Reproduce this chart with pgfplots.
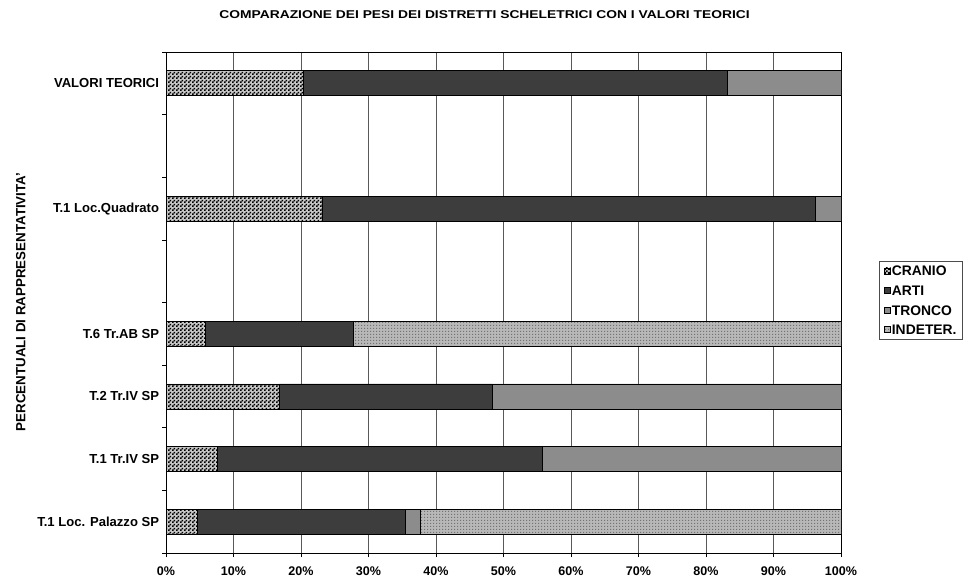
\documentclass[border=0pt]{standalone}
\usepackage{pgfplots}
\pgfplotsset{compat=1.18}
\usepackage{pgfplotstable}
\usepackage{fontspec}
\setmainfont{Liberation Sans}
\usetikzlibrary{patterns}

% fine checkerboard for CRANIO
\pgfdeclarepatternformonly{finechecker}{\pgfqpoint{0pt}{0pt}}{\pgfqpoint{3pt}{3pt}}{\pgfqpoint{3pt}{3pt}}{%
  \pgfpathrectangle{\pgfqpoint{0pt}{0pt}}{\pgfqpoint{1.5pt}{1.5pt}}%
  \pgfpathrectangle{\pgfqpoint{1.5pt}{1.5pt}}{\pgfqpoint{1.5pt}{1.5pt}}%
  \pgfusepath{fill}}
% small dot grid for INDETER.
\pgfdeclarepatternformonly{finedots}{\pgfqpoint{0pt}{0pt}}{\pgfqpoint{2.2pt}{2.2pt}}{\pgfqpoint{2.2pt}{2.2pt}}{%
  \pgfpathrectangle{\pgfqpoint{0pt}{0pt}}{\pgfqpoint{0.8pt}{0.8pt}}%
  \pgfusepath{fill}}

% percentages per site: position on the category axis, then the four districts
\pgfplotstableread{
pos cranio arti tronco indeter
0   4.7   30.8  2.2   62.3
1   7.6   48.1  44.3  0
2   16.8  31.5  51.7  0
3   5.9   21.8  0     72.3
5   23.1  73.1  3.8   0
7   20.4  62.7  16.9  0
}\datatab

\begin{document}
\begin{tikzpicture}
\useasboundingbox (0,0) rectangle (726.75pt,436.5pt);
\begin{axis}[
  scale only axis,
  width=506.25pt, height=375.75pt,
  at={(124.5pt,21.75pt)}, anchor=south west,
  xbar stacked,
  bar width=18.75pt,
  xmin=0, xmax=100,
  ymin=-0.5, ymax=7.5,
  tick pos=left,
  xtick={0,10,...,100},
  xticklabels={0\%,10\%,20\%,30\%,40\%,50\%,60\%,70\%,80\%,90\%,100\%},
  xticklabel style={font=\fontsize{9.4}{11}\selectfont\bfseries, yshift=-4pt},
  ytick={0,1,2,3,5,7},
  yticklabels={T.1 Loc. Palazzo SP,T.1 Tr.IV SP,T.2 Tr.IV SP,T.6 Tr.AB SP,T.1 Loc.Quadrato,VALORI TEORICI},
  yticklabel style={font=\fontsize{9.8}{11}\selectfont\bfseries, inner sep=0pt, xshift=-2pt},
  minor ytick={-0.5,0.5,...,7.5},
  ytick style={draw=none},
  minor y tick style={draw=black, line width=0.5pt},
  minor tick length=3pt,
  tick align=outside,
  x tick style={draw=black, line width=0.5pt},
  major tick length=3pt,
  xmajorgrids,
  major grid style={black!65, line width=0.5pt},
  axis line style={black, line width=0.6pt},
  legend cell align=left,
  legend style={at={(1.0563,0.5828)}, anchor=north west,
    draw=black!70, line width=0.5pt,
    font=\fontsize{10.4}{11}\selectfont\bfseries,
    inner xsep=3.6pt, inner ysep=2.6pt, row sep=5.6pt,
    nodes={inner sep=0.8pt, text height=7.5pt, text depth=0pt}},
  legend image code/.code={\draw[#1,draw=black,line width=0.4pt] (0pt,-2.3pt) rectangle (4.6pt,2.3pt);},
]
\addplot[draw=black, line width=0.5pt, fill=black!22, postaction={pattern=finechecker, pattern color=black}]
  table[x=cranio, y=pos]{\datatab};
\addplot[draw=black, line width=0.5pt, fill=black!76]
  table[x=arti, y=pos]{\datatab};
\addplot[draw=black, line width=0.5pt, fill=black!45]
  table[x=tronco, y=pos]{\datatab};
\addplot[draw=black, line width=0.5pt, fill=black!28, postaction={pattern=finedots, pattern color=black!55}]
  table[x=indeter, y=pos]{\datatab};
\legend{CRANIO,ARTI,TRONCO,INDETER.}
\end{axis}
\node[font=\fontsize{8.5}{10}\selectfont\bfseries] at (363.4pt,425.25pt)
  {\scalebox{1.22}[1]{COMPARAZIONE DEI PESI DEI DISTRETTI SCHELETRICI CON I VALORI TEORICI}};
\node[rotate=90, font=\fontsize{10}{11}\selectfont\bfseries] at (15.5pt,210pt)
  {PERCENTUALI DI RAPPRESENTATIVITA'};
\end{tikzpicture}
\end{document}
